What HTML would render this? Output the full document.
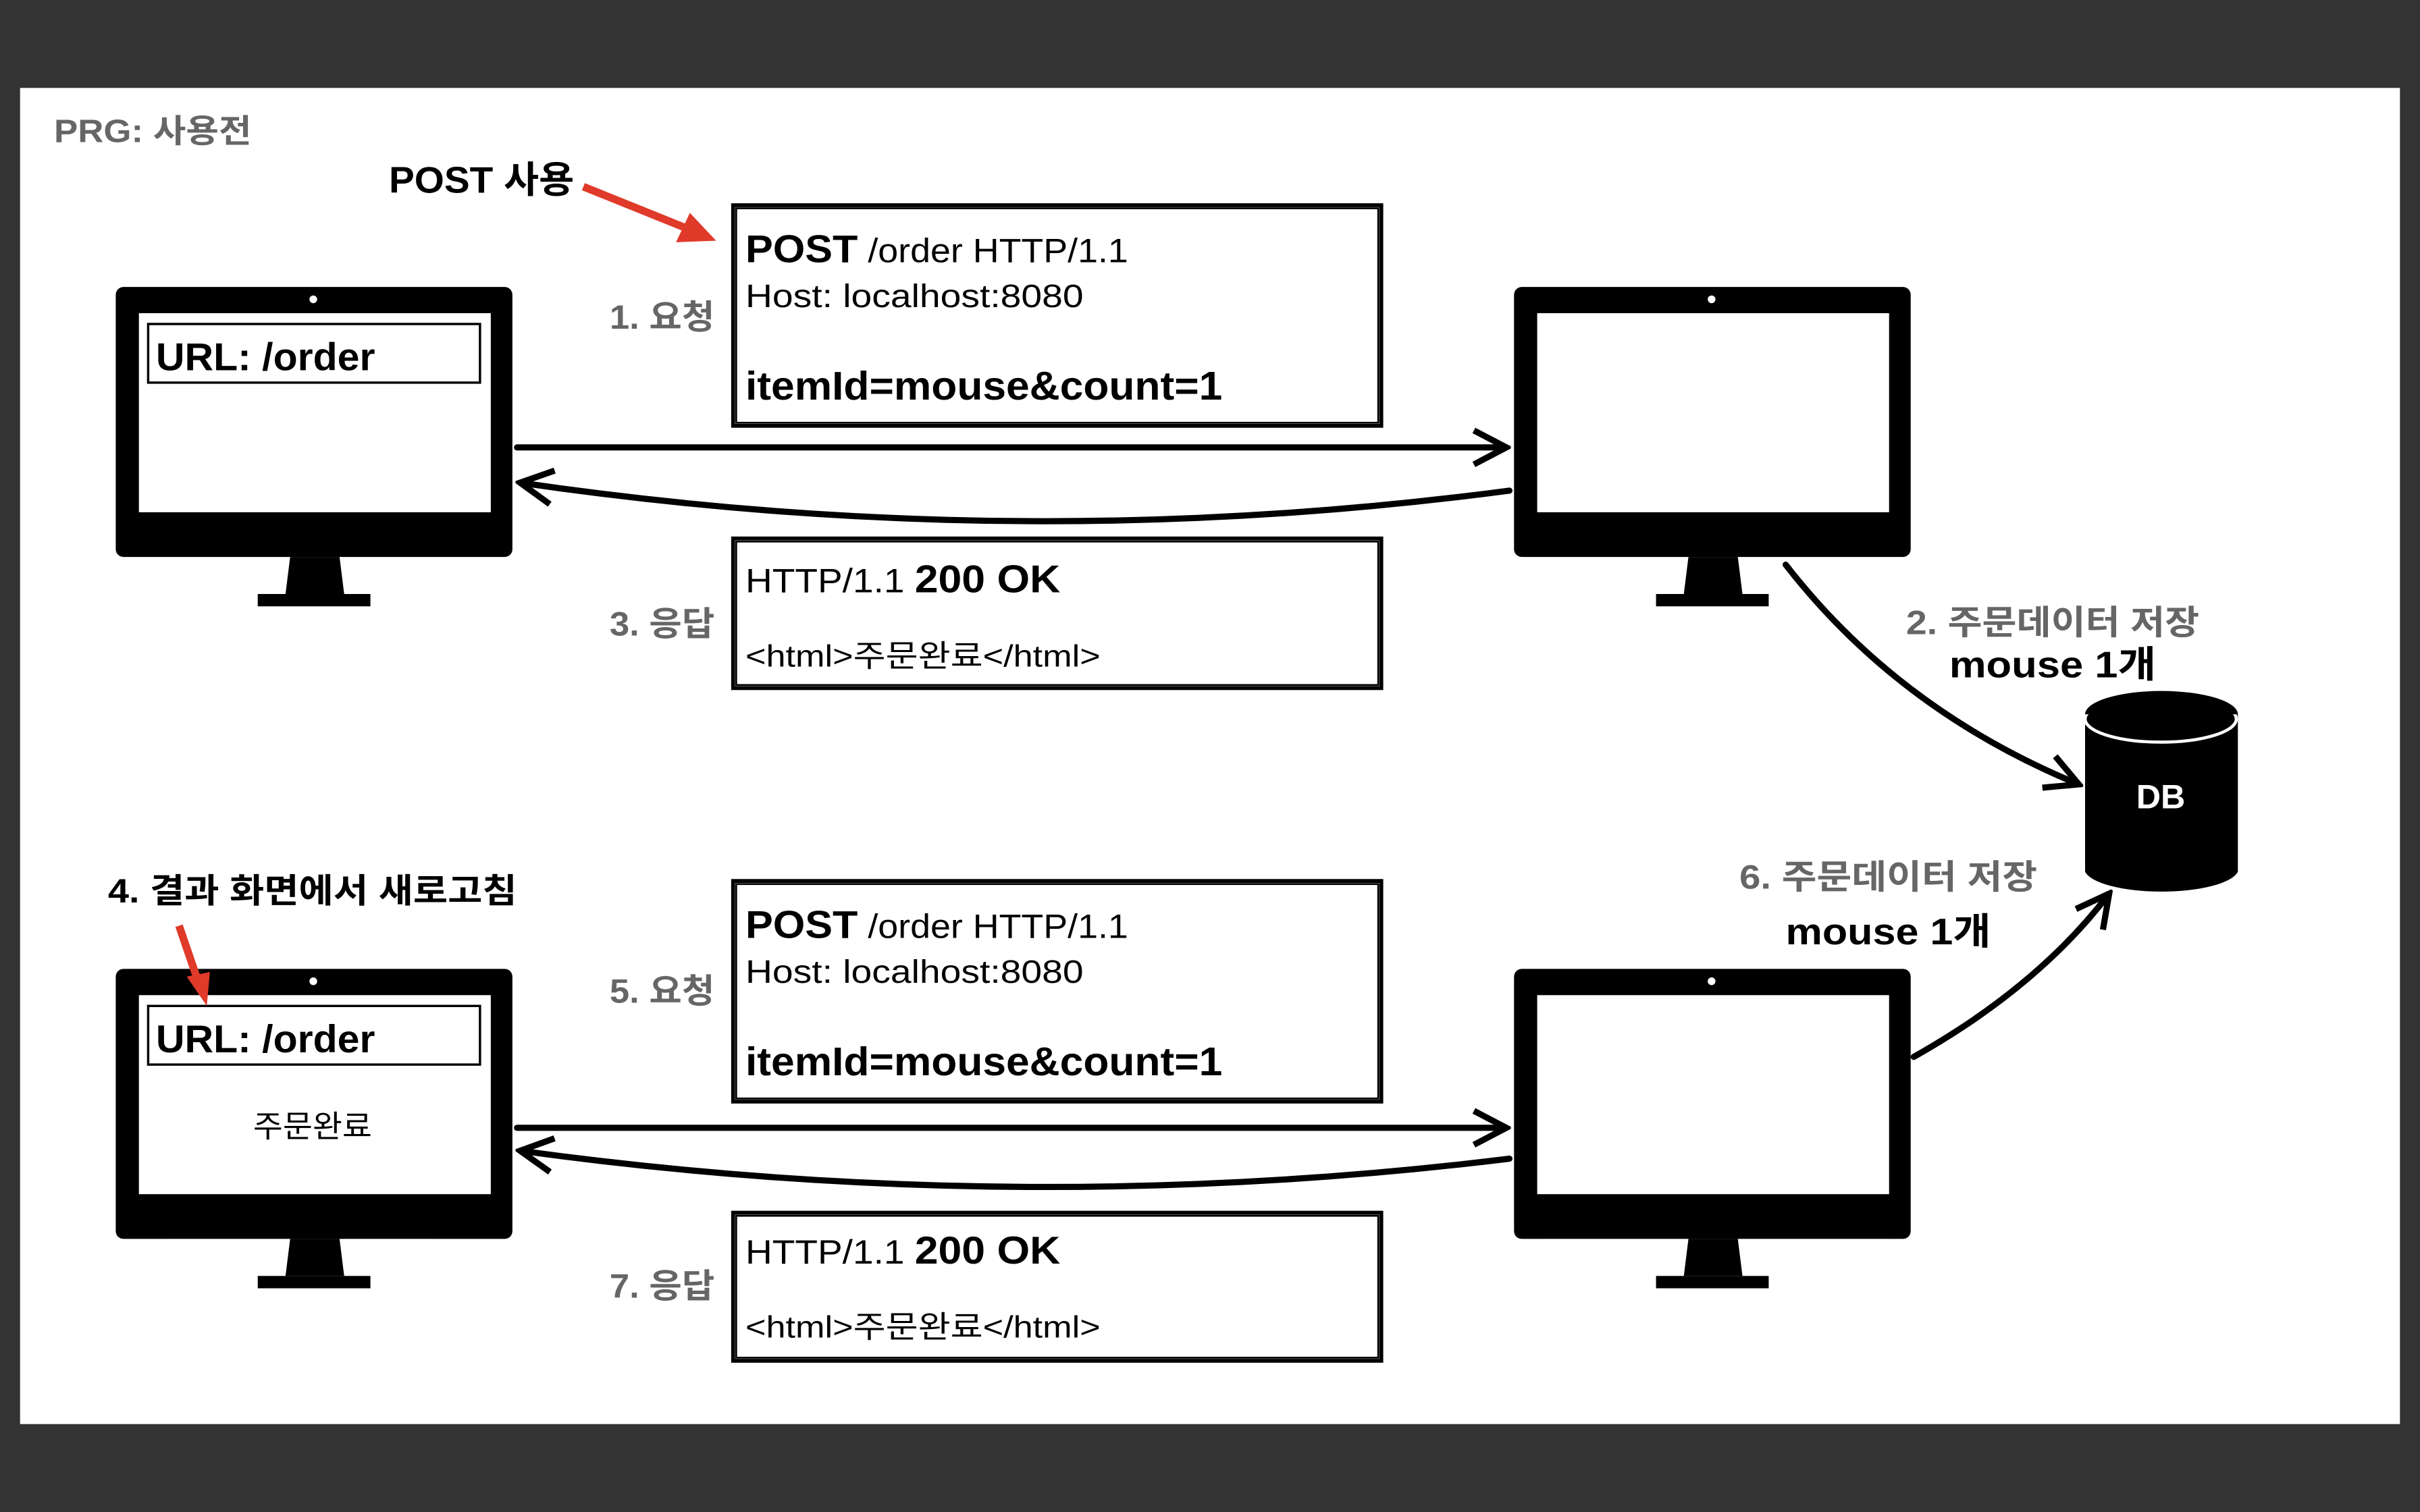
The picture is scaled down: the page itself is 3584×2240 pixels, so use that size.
<!DOCTYPE html>
<html><head><meta charset="utf-8"><style>
html,body{margin:0;padding:0;background:#333;}
svg{display:block}
text{font-family:"Liberation Sans","Noto Sans CJK KR",sans-serif;}
</style></head><body>
<svg width="3584" height="2240" viewBox="0 0 1568 980" xmlns="http://www.w3.org/2000/svg">
<defs>
<marker id="ahb" markerWidth="26" markerHeight="26" refX="22" refY="13" orient="auto" markerUnits="userSpaceOnUse" viewBox="0 0 26 26">
<path d="M2,2 L23,13 L2,24" fill="none" stroke="#000" stroke-width="4"/>
</marker>
<g id="mon">
<rect x="0" y="0" width="257" height="175" rx="5" fill="#000"/>
<rect x="15" y="17" width="228" height="129" fill="#fff"/>
<circle cx="128" cy="8" r="2.5" fill="#fff"/>
<path d="M113,175 L145,175 L148,199 L110,199 Z" fill="#000"/>
<rect x="92" y="199" width="73" height="8" fill="#000"/>
</g>
</defs>
<rect x="0" y="0" width="1568" height="980" fill="#333"/>
<rect x="13" y="57" width="1542" height="866" fill="#fff"/>
<text x="35" y="92" font-size="21" font-weight="bold" fill="#666" textLength="128" lengthAdjust="spacingAndGlyphs">PRG: 사용전</text>

<use href="#mon" x="75" y="186"/>
<use href="#mon" x="981" y="186"/>
<use href="#mon" x="75" y="628"/>
<use href="#mon" x="981" y="628"/>

<rect x="96" y="210" width="215" height="38" fill="none" stroke="#000" stroke-width="1.5"/>
<text x="101" y="240" font-size="25" font-weight="bold" textLength="142" lengthAdjust="spacingAndGlyphs">URL: /order</text>
<rect x="96" y="652" width="215" height="38" fill="none" stroke="#000" stroke-width="1.5"/>
<text x="101" y="682" font-size="25" font-weight="bold" textLength="142" lengthAdjust="spacingAndGlyphs">URL: /order</text>
<text x="164" y="737" font-size="20" textLength="77" lengthAdjust="spacingAndGlyphs">주문완료</text>

<g fill="none" stroke="#000" stroke-width="2.5">
<rect x="475" y="133" width="420" height="143"/><rect x="477" y="135" width="416" height="139" stroke-width="1.2"/>
<rect x="475" y="349" width="420" height="97"/><rect x="477" y="351" width="416" height="93" stroke-width="1.2"/>
<rect x="475" y="571" width="420" height="143"/><rect x="477" y="573" width="416" height="139" stroke-width="1.2"/>
<rect x="475" y="786" width="420" height="96"/><rect x="477" y="788" width="416" height="92" stroke-width="1.2"/>
</g>
<g>
<text x="483" y="170" font-size="22" textLength="248" lengthAdjust="spacingAndGlyphs"><tspan font-weight="bold" font-size="25">POST</tspan> /order HTTP/1.1</text>
<text x="483" y="199" font-size="21" textLength="219" lengthAdjust="spacingAndGlyphs">Host: localhost:8080</text>
<text x="483" y="259" font-size="26" font-weight="bold" textLength="309" lengthAdjust="spacingAndGlyphs">itemId=mouse&amp;count=1</text>
<text x="483" y="384" font-size="22" textLength="204" lengthAdjust="spacingAndGlyphs">HTTP/1.1 <tspan font-weight="bold" font-size="25">200 OK</tspan></text>
<text x="483" y="432" font-size="20" textLength="230" lengthAdjust="spacingAndGlyphs">&lt;html&gt;주문완료&lt;/html&gt;</text>
<text x="483" y="608" font-size="22" textLength="248" lengthAdjust="spacingAndGlyphs"><tspan font-weight="bold" font-size="25">POST</tspan> /order HTTP/1.1</text>
<text x="483" y="637" font-size="21" textLength="219" lengthAdjust="spacingAndGlyphs">Host: localhost:8080</text>
<text x="483" y="697" font-size="26" font-weight="bold" textLength="309" lengthAdjust="spacingAndGlyphs">itemId=mouse&amp;count=1</text>
<text x="483" y="819" font-size="22" textLength="204" lengthAdjust="spacingAndGlyphs">HTTP/1.1 <tspan font-weight="bold" font-size="25">200 OK</tspan></text>
<text x="483" y="867" font-size="20" textLength="230" lengthAdjust="spacingAndGlyphs">&lt;html&gt;주문완료&lt;/html&gt;</text>
</g>

<g font-size="22" font-weight="bold" fill="#666" lengthAdjust="spacingAndGlyphs">
<text x="395" y="213" textLength="68" lengthAdjust="spacingAndGlyphs">1. 요청</text>
<text x="395" y="412" textLength="68" lengthAdjust="spacingAndGlyphs">3. 응답</text>
<text x="395" y="650" textLength="68" lengthAdjust="spacingAndGlyphs">5. 요청</text>
<text x="395" y="841" textLength="68" lengthAdjust="spacingAndGlyphs">7. 응답</text>
<text x="1235" y="411" textLength="190" lengthAdjust="spacingAndGlyphs">2. 주문데이터 저장</text>
<text x="1127" y="576" textLength="193" lengthAdjust="spacingAndGlyphs">6. 주문데이터 저장</text>
</g>
<g font-size="24" font-weight="bold">
<text x="1263" y="439" textLength="134" lengthAdjust="spacingAndGlyphs">mouse 1개</text>
<text x="1157" y="612" textLength="133" lengthAdjust="spacingAndGlyphs">mouse 1개</text>
<text x="252" y="125" textLength="120" lengthAdjust="spacingAndGlyphs">POST 사용</text>
<text x="70" y="585" font-size="22" textLength="265" lengthAdjust="spacingAndGlyphs">4. 결과 화면에서 새로고침</text>
</g>

<g fill="none" stroke="#000" stroke-width="4" stroke-linecap="round">
<path d="M335,290 L975,290" marker-end="url(#ahb)"/>
<path d="M978,318 Q660,360 338,313" marker-end="url(#ahb)"/>
<path d="M335,731 L975,731" marker-end="url(#ahb)"/>
<path d="M978,751 Q660,790 338,746" marker-end="url(#ahb)"/>
<path d="M1157,366 Q1230,460 1346,508" marker-end="url(#ahb)"/>
<path d="M1240,685 Q1320,640 1366,580" marker-end="url(#ahb)"/>
</g>
<g stroke="#e03a2a" stroke-width="5" fill="#e03a2a">
<line x1="378" y1="121" x2="445" y2="148"/>
<path d="M464,156 L438,157 L447,138 Z" stroke="none"/>
<line x1="116" y1="600" x2="128" y2="635"/>
<path d="M134,652 L121,633 L136,630 Z" stroke="none"/>
</g>

<path d="M1351,463 L1351,565 A50,15 0 0 0 1450,565 L1450,463 Z" fill="#000"/>
<ellipse cx="1400" cy="466" rx="49" ry="15" fill="#000" stroke="#fff" stroke-width="2"/>
<path d="M1351,463 A49,15 0 0 1 1450,463" fill="#000"/>
<text x="1400" y="524" font-size="22" font-weight="bold" fill="#fff" text-anchor="middle">DB</text>
</svg>
</body></html>
